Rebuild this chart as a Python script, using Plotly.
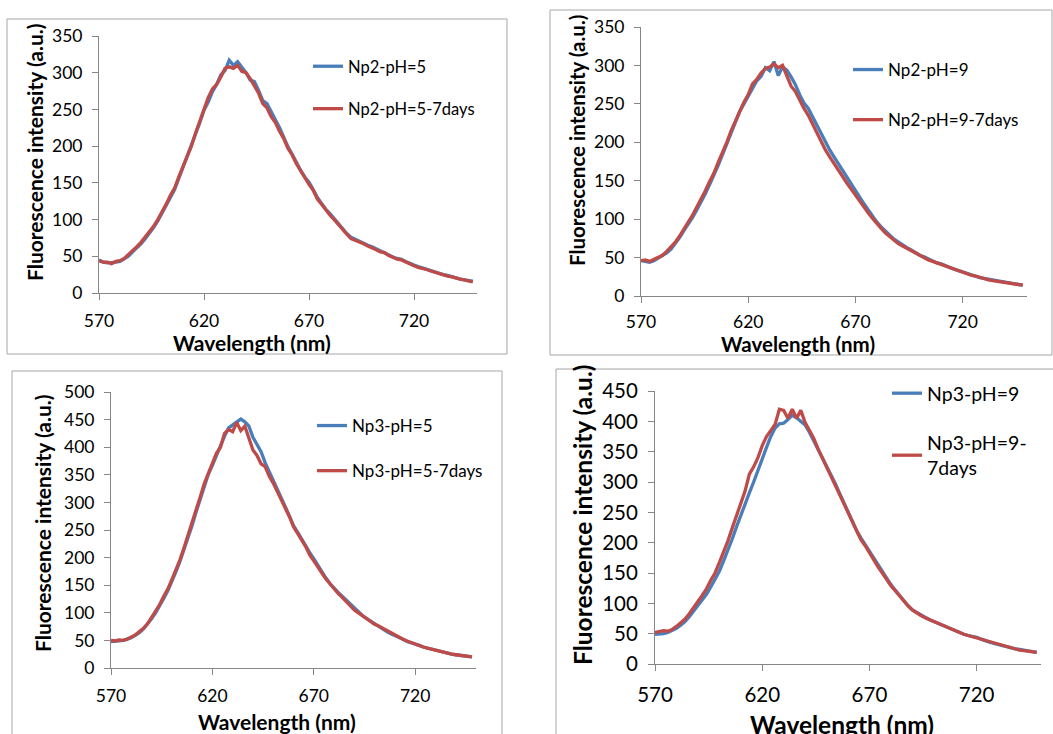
import plotly.graph_objects as go

W, H = 1053, 734

wavelength = list(range(570, 750, 2))

np2_ph5 = [45, 42, 41, 41, 42, 43, 46, 50, 56, 61, 67, 74, 81, 89, 98, 108, 119, 130, 141, 156,
           170, 185, 200, 216, 232, 249, 260, 274, 284, 297, 303, 317, 310, 315, 307, 300, 290, 288, 276, 262,
           258, 246, 236, 225, 212, 199, 189, 177, 167, 158, 151, 141, 130, 122, 114, 108, 101, 94, 88, 81,
           76, 73, 71, 68, 65, 63, 60, 57, 55, 51, 49, 47, 46, 43, 40, 38, 36, 34, 33, 31,
           29, 27, 25, 24, 22, 20, 19, 18, 17, 16]
np2_ph5_7d = [44, 42, 42, 40, 43, 44, 47, 52, 57, 63, 69, 76, 83, 91, 100, 110, 121, 133, 143, 158,
              172, 188, 200, 218, 235, 252, 266, 278, 284, 294, 306, 308, 306, 310, 302, 300, 292, 282, 272, 258,
              252, 240, 232, 220, 210, 197, 188, 176, 166, 157, 148, 140, 128, 121, 113, 106, 100, 93, 87, 80,
              74, 72, 70, 67, 64, 62, 59, 56, 55, 51, 48, 46, 45, 42, 40, 37, 35, 34, 32, 30,
              28, 27, 25, 23, 22, 20, 19, 18, 16, 15]

np2_ph9 = [46, 45, 44, 46, 49, 52, 56, 61, 68, 76, 85, 93, 102, 112, 122, 133, 145, 157, 170, 184,
           198, 212, 226, 240, 250, 259, 270, 280, 286, 297, 293, 305, 287, 298, 294, 285, 275, 262, 251, 244,
           233, 224, 212, 200, 190, 181, 172, 163, 154, 146, 137, 129, 120, 112, 104, 96, 90, 84, 79, 74,
           70, 67, 63, 60, 56, 53, 51, 48, 45, 43, 42, 39, 37, 35, 33, 31, 29, 28, 26, 24,
           23, 22, 20, 19, 18, 17, 16, 15, 15, 14]
np2_ph9_7d = [46, 47, 45, 48, 50, 53, 58, 64, 70, 78, 88, 96, 105, 115, 125, 137, 149, 160, 174, 186,
              200, 215, 228, 240, 252, 262, 276, 282, 290, 296, 298, 302, 297, 300, 285, 273, 266, 254, 244, 235,
              224, 212, 200, 190, 181, 172, 163, 155, 147, 139, 131, 124, 116, 108, 101, 94, 88, 82, 77, 72,
              68, 65, 62, 59, 55, 52, 50, 47, 45, 43, 41, 38, 36, 35, 33, 31, 29, 27, 26, 24,
              22, 21, 20, 19, 18, 17, 16, 15, 14, 14]

np3_ph5 = [48, 48, 49, 50, 52, 55, 59, 64, 71, 79, 89, 100, 112, 126, 140, 156, 174, 193, 214, 236,
           258, 283, 307, 330, 351, 367, 385, 405, 420, 435, 440, 446, 451, 446, 438, 418, 406, 392, 372, 356,
           343, 326, 310, 292, 275, 258, 246, 233, 222, 209, 198, 186, 174, 163, 153, 144, 137, 130, 123, 115,
           107, 101, 95, 90, 85, 80, 76, 71, 66, 62, 59, 55, 52, 48, 46, 44, 41, 38, 36, 34,
           32, 30, 29, 27, 25, 24, 23, 22, 21, 20]
np3_ph5_7d = [50, 49, 51, 50, 52, 56, 60, 66, 72, 80, 91, 102, 115, 130, 143, 160, 178, 196, 218, 240,
              262, 288, 310, 334, 352, 372, 389, 400, 425, 432, 428, 445, 430, 438, 418, 395, 385, 370, 365, 348,
              335, 320, 305, 290, 274, 256, 245, 232, 220, 205, 194, 182, 172, 161, 152, 142, 135, 128, 120, 112,
              105, 100, 95, 89, 84, 79, 76, 72, 67, 63, 59, 56, 52, 49, 46, 44, 41, 38, 36, 34,
              32, 30, 29, 27, 25, 24, 23, 22, 21, 20]

np3_ph9 = [49, 49, 50, 52, 55, 59, 64, 70, 78, 87, 97, 106, 115, 127, 139, 153, 170, 187, 206, 226,
           246, 264, 282, 300, 320, 339, 357, 375, 389, 396, 397, 403, 410, 406, 400, 394, 382, 368, 356, 342,
           328, 314, 298, 282, 266, 251, 235, 220, 208, 197, 186, 175, 163, 152, 141, 131, 122, 113, 104, 96,
           89, 85, 80, 76, 73, 70, 67, 63, 60, 57, 54, 52, 49, 47, 46, 44, 41, 38, 36, 34,
           32, 30, 28, 26, 25, 24, 23, 22, 20, 19]
np3_ph9_7d = [52, 53, 55, 54, 57, 62, 68, 74, 83, 92, 103, 113, 124, 138, 150, 167, 184, 203, 224, 244,
              265, 285, 313, 325, 340, 360, 375, 385, 395, 420, 418, 405, 420, 405, 418, 398, 385, 372, 355, 340,
              325, 308, 295, 280, 263, 248, 232, 218, 205, 195, 183, 172, 160, 150, 139, 129, 121, 112, 103, 96,
              89, 84, 80, 76, 73, 70, 67, 63, 60, 57, 54, 52, 49, 47, 45, 43, 41, 38, 36, 34,
              32, 30, 28, 26, 25, 23, 22, 21, 20, 19]

x_ticks = [570, 620, 670, 720]
x_range = [570, 750]

BLUE = "#4A7EBB"
RED = "#BE4B48"
AXIS = "#868686"
BORDER = "#A6A6A6"
FONT = "Lato"

panels = [
    dict(names=["Np2-pH=5", "Np2-pH=5-7days"], ys=[np2_ph5, np2_ph5_7d], ymax=350,
         xpx=(99, 477), ypx=(293, 36), tf=17.5, lf=16.5, ttl=21, ytc=(35, 152), xtc=(252, 342),
         leg=(308, 49), gap=18, border=(7, 19, 507, 354), xso=6),
    dict(names=["Np2-pH=9", "Np2-pH=9-7days"], ys=[np2_ph9, np2_ph9_7d], ymax=350,
         xpx=(641, 1027), ypx=(296, 27), tf=17.5, lf=17, ttl=20.5, ytc=(577, 141), xtc=(798, 344),
         leg=(848, 52), gap=25, border=(550, 10, 1052, 355), xso=4),
    dict(names=["Np3-pH=5", "Np3-pH=5-7days"], ys=[np3_ph5, np3_ph5_7d], ymax=500,
         xpx=(111, 476), ypx=(668, 392), tf=17.5, lf=17, ttl=21, ytc=(42, 523), xtc=(277, 721),
         leg=(312, 408), gap=20, border=(12, 371, 502, 740), xso=6),
    dict(names=["Np3-pH=9", "Np3-pH=9-<br>7days"], ys=[np3_ph9, np3_ph9_7d], ymax=450,
         xpx=(655, 1041), ypx=(664, 391), tf=20.5, lf=19.5, ttl=24.5, ytc=(582, 515), xtc=(842, 724),
         leg=(887, 374), gap=21, border=(556, 369, 1060, 740), xso=6),
]

fig = go.Figure()
layout = dict(
    width=W, height=H, margin=dict(l=0, r=0, t=0, b=0, autoexpand=False),
    paper_bgcolor="white", plot_bgcolor="white", showlegend=True,
    annotations=[], shapes=[],
)

def px_x(v):
    return v / W

def px_y(v):
    return 1 - v / H

for i, p in enumerate(panels):
    k = "" if i == 0 else str(i + 1)
    xa, ya = "x" + k, "y" + k
    leg = "legend" if i == 0 else "legend" + str(i + 1)
    for j, (name, ys, col) in enumerate(zip(p["names"], p["ys"], [BLUE, RED])):
        fig.add_trace(go.Scatter(
            x=wavelength, y=ys, mode="lines", name=name,
            line=dict(color=col, width=3.3), xaxis=xa, yaxis=ya,
            legend=leg, legendgroup=f"g{i}{j}", hoverinfo="skip",
        ))
    layout["xaxis" + k] = dict(
        domain=[px_x(p["xpx"][0]), px_x(p["xpx"][1])], anchor=ya, range=x_range,
        tickvals=x_ticks, ticks="outside", ticklen=6, tickcolor=AXIS,
        showline=True, linecolor=AXIS, linewidth=1, showgrid=False, zeroline=False,
        tickfont=dict(family=FONT, size=p["tf"], color="black"), ticklabelstandoff=p["xso"],
    )
    layout["yaxis" + k] = dict(
        domain=[px_y(p["ypx"][0]), px_y(p["ypx"][1])], anchor=xa, range=[0, p["ymax"]],
        dtick=50, ticks="outside", ticklen=6, tickcolor=AXIS,
        showline=True, linecolor=AXIS, linewidth=1, showgrid=False, zeroline=False,
        tickfont=dict(family=FONT, size=p["tf"], color="black"), ticklabelstandoff=6,
    )
    layout[leg] = dict(
        x=px_x(p["leg"][0]), y=px_y(p["leg"][1]), xanchor="left", yanchor="top",
        bgcolor="rgba(0,0,0,0)", font=dict(family=FONT, size=p["lf"], color="black"),
        tracegroupgap=p["gap"], itemwidth=30,
    )
    layout["annotations"].append(dict(
        text="<b>Fluorescence intensity (a.u.)</b>", textangle=-90,
        x=px_x(p["ytc"][0]), y=px_y(p["ytc"][1]), xref="paper", yref="paper",
        xanchor="center", yanchor="middle", showarrow=False,
        font=dict(family=FONT, size=p["ttl"], color="black"),
    ))
    layout["annotations"].append(dict(
        text="<b>Wavelength (nm)</b>",
        x=px_x(p["xtc"][0]), y=px_y(p["xtc"][1]), xref="paper", yref="paper",
        xanchor="center", yanchor="middle", showarrow=False,
        font=dict(family=FONT, size=p["ttl"], color="black"),
    ))
    bx0, by0, bx1, by1 = p["border"]
    layout["shapes"].append(dict(
        type="rect", xref="paper", yref="paper",
        x0=px_x(bx0), x1=px_x(bx1), y0=px_y(by1), y1=px_y(by0),
        line=dict(color=BORDER, width=1), fillcolor="rgba(0,0,0,0)", layer="below",
    ))

fig.update_layout(**layout)
fig.write_html("out.html")
